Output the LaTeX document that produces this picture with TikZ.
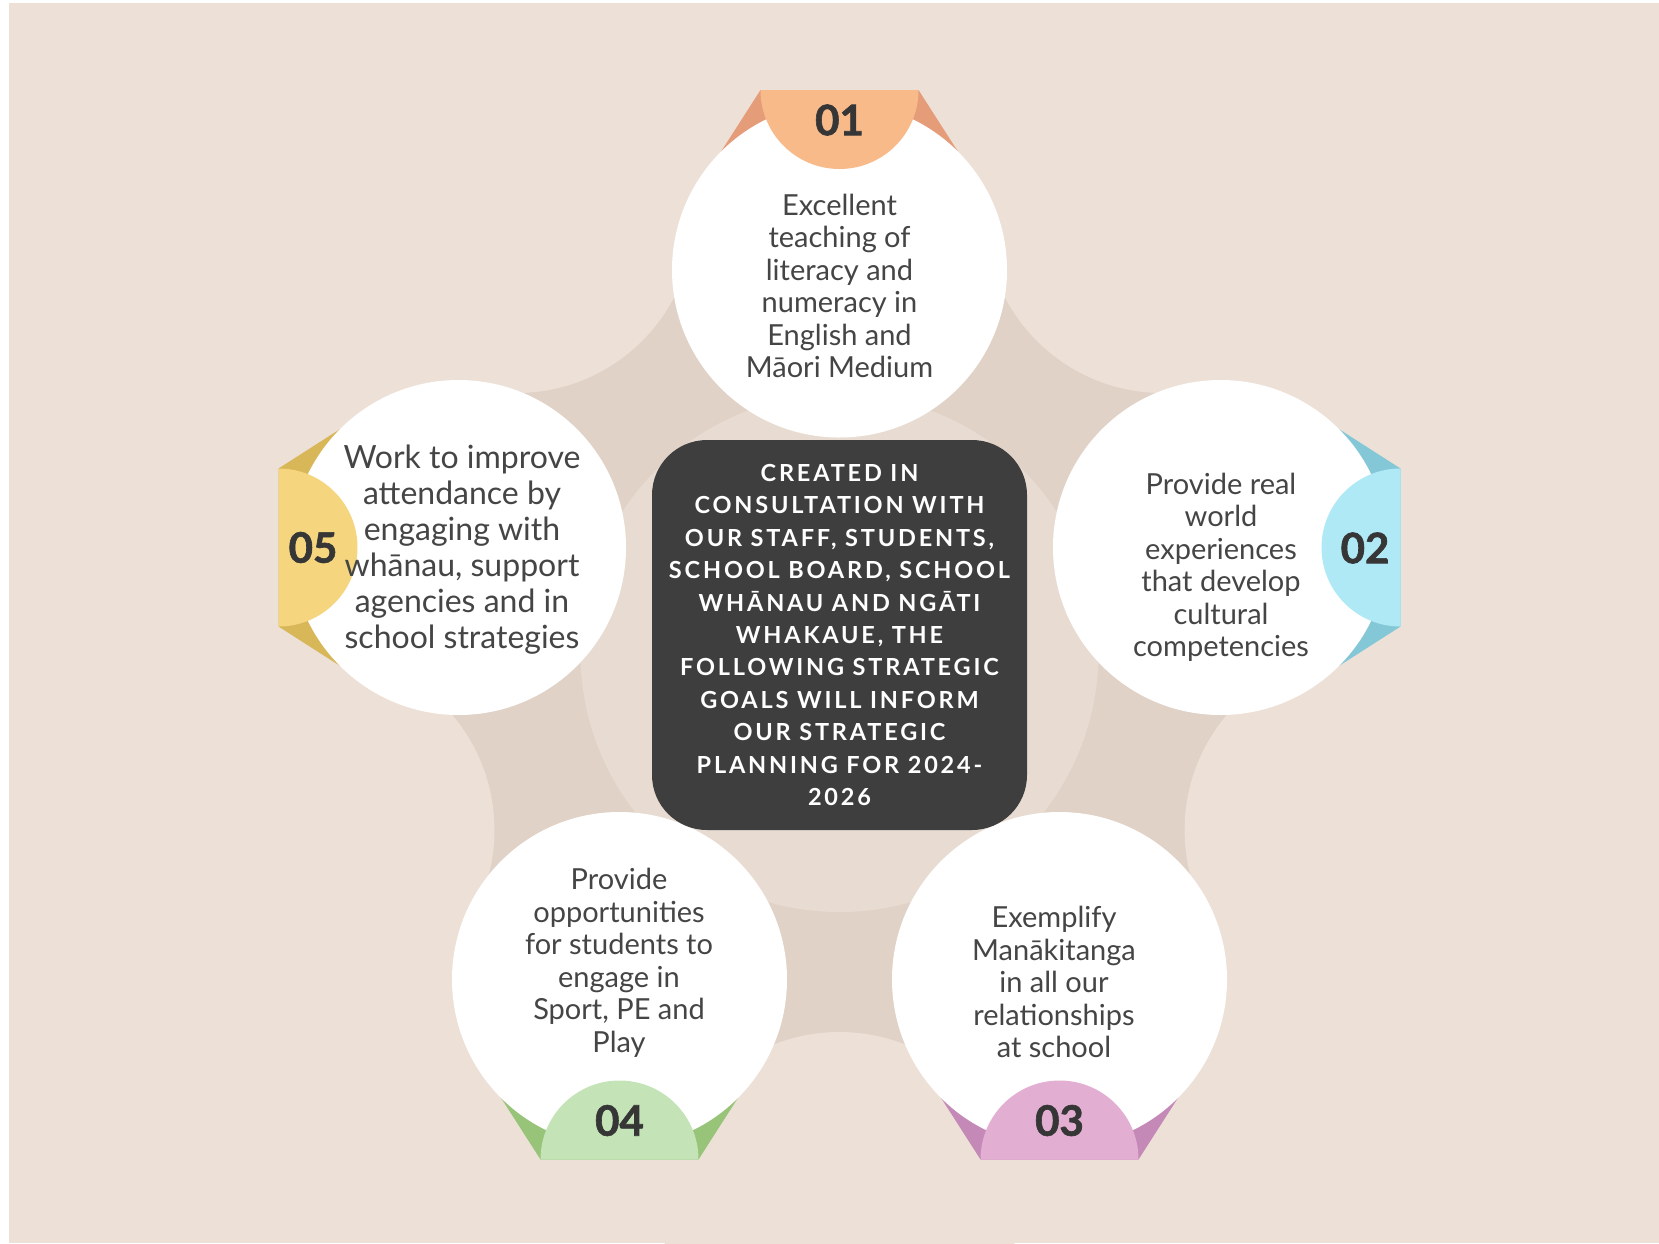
\documentclass[tikz,border=0pt]{standalone}
\usepackage{fontspec}
\setmainfont{Lato}
\newfontfamily\boxfont[LetterSpace=12]{Lato}
\newfontfamily\numfont[BoldFeatures={FakeBold=1.5}]{Lato}
\usepackage{tikz}
\definecolor{backdrop}{HTML}{EDE0D7}
\definecolor{ringdark}{HTML}{E0D2C6}
\definecolor{ringlight}{HTML}{E8DCD2}
\definecolor{boxgray}{HTML}{3E3E3E}
\definecolor{textgray}{HTML}{454545}
\definecolor{numgray}{HTML}{363636}
\definecolor{orangelight}{HTML}{F9BA8A}
\definecolor{orangedark}{HTML}{E59D79}
\definecolor{bluelight}{HTML}{B0E9F6}
\definecolor{bluedark}{HTML}{84C8D8}
\definecolor{pinklight}{HTML}{E2AED2}
\definecolor{pinkdark}{HTML}{C489B6}
\definecolor{greenlight}{HTML}{C4E3B6}
\definecolor{greendark}{HTML}{98C47A}
\definecolor{yellowlight}{HTML}{F5D57D}
\definecolor{yellowdark}{HTML}{D8B758}
\newcommand{\goalfold}[3]{\fill[#3, shift={(#1)}, rotate=#2] (-79,-180) -- (79,-180) -- (-45:167.5) -- (0,0) -- (-135:167.5) -- cycle;}
\newcommand{\goaltab}[3]{\fill[#3, shift={(#1)}, rotate=#2] (-79,-180) arc[start angle=180, end angle=0, radius=79] -- cycle;}
\tikzstyle{goal} = [circle, fill=white, minimum size=335pt, inner sep=0pt]
\tikzstyle{goaltext} = [text=textgray, align=center, font=\fontsize{29}{32.5}\selectfont]
\tikzstyle{goalnum} = [text=numgray, font=\numfont\bfseries\fontsize{42}{42}\selectfont]
\tikzstyle{centrebox} = [fill=boxgray, rounded corners=55pt, minimum width=375pt, minimum height=390pt, text=white, align=center, font=\boxfont\bfseries\fontsize{23.5}{32.4}\selectfont]

\begin{document}
\begin{tikzpicture}[x=1pt, y=-1pt]
	\useasboundingbox (0,0) rectangle (1659,1243);
	\fill[white] (0,0) rectangle (1659,1243);
	\fill[backdrop] (9,3) rectangle (1659,1243);
	\coordinate (c0) at (839.5,660);
	\fill[ringdark] (c0) circle[radius=450];
	\fill[backdrop, shift={(c0)}] (-126:550) circle[radius=178] (-54:550) circle[radius=178] (18:550) circle[radius=178] (90:550) circle[radius=178] (162:550) circle[radius=178];
	\fill[ringlight] (839.5,653) circle[radius=259];
	\coordinate (c1) at (839.5,270);
	\coordinate (c2) at (1220.5,547.5);
	\coordinate (c3) at (1059.5,979.5);
	\coordinate (c4) at (619.5,979.5);
	\coordinate (c5) at (458.5,547.5);
	\goalfold{c1}{0}{orangedark}
	\goalfold{c2}{-90}{bluedark}
	\goalfold{c3}{180}{pinkdark}
	\goalfold{c4}{180}{greendark}
	\goalfold{c5}{90}{yellowdark}
	\node[goal] (g1) at (c1) {};
	\node[goal] (g2) at (c2) {};
	\node[goal] (g3) at (c3) {};
	\node[goal] (g4) at (c4) {};
	\node[goal] (g5) at (c5) {};
	\goaltab{g1}{0}{orangelight}
	\goaltab{g2}{-90}{bluelight}
	\goaltab{g3}{180}{pinklight}
	\goaltab{g4}{180}{greenlight}
	\goaltab{g5}{90}{yellowlight}
	\node[goalnum] (n1) at (839.5,120) {01};
	\node[goalnum] (n2) at (1365,548) {02};
	\node[goalnum] (n3) at (1059.5,1120.5) {03};
	\node[goalnum] (n4) at (619.5,1120.5) {04};
	\node[goalnum] (n5) at (313,547.5) {05};
	\node[goaltext] (t1) at (839.5,286) {Excellent\\teaching of\\literacy and\\numeracy in\\English and\\Māori Medium};
	\node[goaltext] (t2) at (1221,567.5) {Provide real\\world\\experiences\\that develop\\cultural\\competencies};
	\node[goaltext] (t3) at (1054,982) {Exemplify\\Manākitanga\\in all our\\relationships\\at school};
	\node[goaltext] (t4) at (619,963) {Provide\\opportunities\\for students to\\engage in\\Sport, PE and\\Play};
	\node[goaltext, font=\fontsize{32}{36}\selectfont] (t5) at (462,550) {Work to improve\\attendance by\\engaging with\\whānau, support\\agencies and in\\school strategies};
	\node[centrebox] (centre) at (839.5,635) {CREATED IN\\CONSULTATION WITH\\OUR STAFF, STUDENTS,\\SCHOOL BOARD, SCHOOL\\WHĀNAU AND NGĀTI\\WHAKAUE, THE\\FOLLOWING STRATEGIC\\GOALS WILL INFORM\\OUR STRATEGIC\\PLANNING FOR 2024-\\2026};
\end{tikzpicture}
\end{document}
